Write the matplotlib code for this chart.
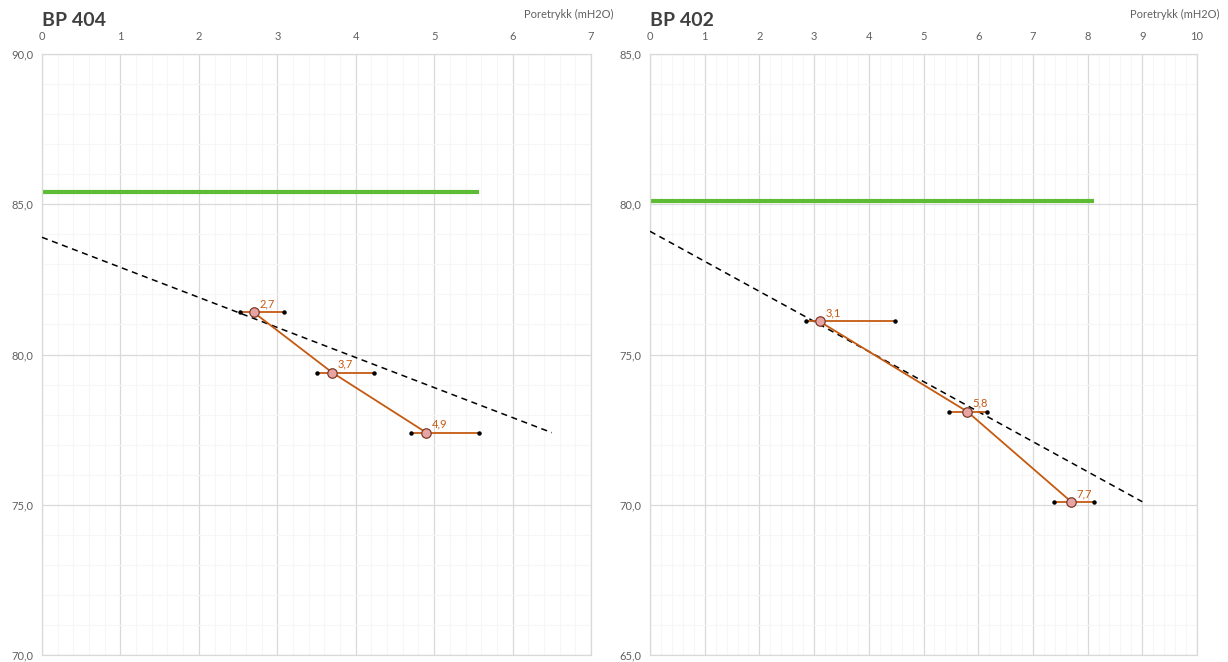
import matplotlib
matplotlib.use("Agg")
import matplotlib.pyplot as plt
from matplotlib.ticker import FuncFormatter, MultipleLocator

plt.rcParams['font.family'] = ['Lato', 'DejaVu Sans']

# BP 404
bp404_pressure = [2.7, 3.7, 4.9]
bp404_level = [81.4, 79.4, 77.4]
bp404_low = [2.53, 3.51, 4.70]
bp404_high = [3.09, 4.23, 5.57]
bp404_ground = 85.4
bp404_hydro_top = 83.9

# BP 402
bp402_pressure = [3.1, 5.8, 7.7]
bp402_level = [76.1, 73.1, 70.1]
bp402_low = [2.85, 5.47, 7.38]
bp402_high = [4.48, 6.17, 8.12]
bp402_ground = 80.1
bp402_hydro_top = 79.1

ORANGE = '#C55A11'
GREEN = '#5DBB34'
GRID = '#D9D9D9'
MINOR = '#F6F6F6'
TXT = '#606060'

fig = plt.figure(figsize=(12.28, 6.62), dpi=100)


def comma(v, _):
    return f"{v:.1f}".replace('.', ',')


def panel(rect, title, xmax, ymin, ymax, px, py, lo, hi, ground, hydro_top):
    ax = fig.add_axes(rect)
    ax.set_xlim(0, xmax)
    ax.set_ylim(ymin, ymax)
    ax.xaxis.set_major_locator(MultipleLocator(1))
    ax.xaxis.set_minor_locator(MultipleLocator(0.2))
    ax.yaxis.set_major_locator(MultipleLocator(5))
    ax.yaxis.set_minor_locator(MultipleLocator(1))
    ax.yaxis.set_major_formatter(FuncFormatter(comma))
    ax.xaxis.tick_top()
    ax.tick_params(which='both', length=0)
    ax.tick_params(axis='x', pad=9, labelsize=8, labelcolor=TXT)
    ax.tick_params(axis='y', pad=6, labelsize=8, labelcolor=TXT)
    ax.grid(which='major', color=GRID, lw=0.9)
    ax.grid(which='minor', color=MINOR, lw=0.8)
    ax.set_axisbelow(True)
    for s in ax.spines.values():
        s.set_color(GRID)
        s.set_linewidth(0.9)

    # ground level
    ax.plot([0, max(hi)], [ground, ground], color=GREEN, lw=3, solid_capstyle='butt', zorder=2)

    # hydrostatic line
    y_end = min(py)
    ax.plot([0, hydro_top - y_end], [hydro_top, y_end], color='black', lw=1.1,
            dashes=(4, 3), zorder=3)

    # measured range
    for l, h, y in zip(lo, hi, py):
        ax.plot([l, h], [y, y], color=ORANGE, lw=1.3, zorder=4)
        ax.plot([l, h], [y, y], ls='none', marker='o', ms=2.2, color='black', zorder=5)

    ax.plot(px, py, color=ORANGE, lw=1.3, zorder=4)
    ax.plot(px, py, ls='none', marker='o', ms=6.8, mfc='#E8A3A3', mec='#7A3B2A',
            mew=0.9, zorder=6)
    for x, y in zip(px, py):
        ax.annotate(f"{x:.1f}".replace('.', ','), (x, y), xytext=(4, 2),
                    textcoords='offset points', ha='left', va='bottom',
                    fontsize=8, color=ORANGE, zorder=7)

    bb = ax.get_position()
    fig.text(bb.x0, 1 - 20 / 662, title, fontsize=14, fontweight='bold',
             color='#404040', ha='left', va='center')
    fig.text(bb.x1 + 22 / 1228, 1 - 14 / 662, 'Poretrykk (mH2O)', fontsize=8,
             color=TXT, ha='right', va='center')
    return ax


panel([42 / 1228, 7 / 662, 549 / 1228, 601 / 662], 'BP 404', 7, 70, 90,
      bp404_pressure, bp404_level, bp404_low, bp404_high, bp404_ground, bp404_hydro_top)
panel([650 / 1228, 7 / 662, 547 / 1228, 601 / 662], 'BP 402', 10, 65, 85,
      bp402_pressure, bp402_level, bp402_low, bp402_high, bp402_ground, bp402_hydro_top)

fig.savefig('out.png', dpi=100, facecolor='white')
